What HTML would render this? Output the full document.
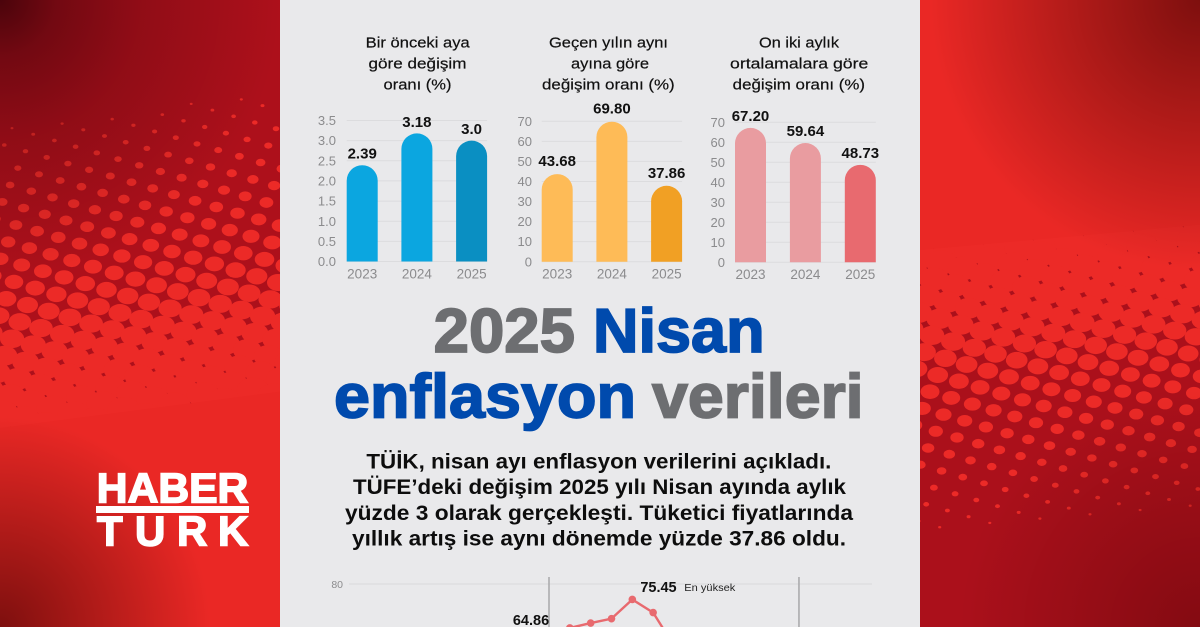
<!DOCTYPE html>
<html lang="tr">
<head>
<meta charset="utf-8">
<title>2025 Nisan enflasyon verileri</title>
<style>
  html, body { margin: 0; padding: 0; background: #e9e9eb; }
  svg { display: block; font-family: "Liberation Sans", "DejaVu Sans", sans-serif; }
</style>
</head>
<body>
<svg id="root" width="1200" height="627" viewBox="0 0 1200 627" xmlns="http://www.w3.org/2000/svg">
  <defs>
    <clipPath id="left-clip"><rect x="0" y="0" width="280" height="627"/></clipPath>
    <clipPath id="right-clip"><rect x="920" y="0" width="280" height="627"/></clipPath>
    <radialGradient id="v-tl" gradientUnits="userSpaceOnUse" cx="0" cy="0" r="280">
      <stop offset="0" stop-color="#2a0006" stop-opacity=".75"/>
      <stop offset=".2" stop-color="#2a0006" stop-opacity=".45"/>
      <stop offset=".5" stop-color="#2a0006" stop-opacity=".22"/>
      <stop offset="1" stop-color="#2a0006" stop-opacity="0"/>
    </radialGradient>
    <radialGradient id="v-bl" gradientUnits="userSpaceOnUse" cx="0" cy="627" r="210">
      <stop offset="0" stop-color="#3c0000" stop-opacity=".62"/>
      <stop offset="1" stop-color="#3c0000" stop-opacity="0"/>
    </radialGradient>
    <radialGradient id="v-tr" gradientUnits="userSpaceOnUse" cx="1200" cy="0" r="270">
      <stop offset="0" stop-color="#3c0000" stop-opacity=".62"/>
      <stop offset="1" stop-color="#3c0000" stop-opacity="0"/>
    </radialGradient>
    <radialGradient id="v-br" gradientUnits="userSpaceOnUse" cx="1200" cy="627" r="240">
      <stop offset="0" stop-color="#3c0000" stop-opacity=".35"/>
      <stop offset="1" stop-color="#3c0000" stop-opacity="0"/>
    </radialGradient>
  </defs>

  <g id="left-panel" clip-path="url(#left-clip)">
    <rect x="0" y="0" width="280" height="627" fill="#ad101b"/>
    <g id="left-dots"></g>
    <polygon points="0,428 280,391.6 280,627 0,627" fill="#ea2825"/>
    <rect x="0" y="0" width="280" height="627" fill="url(#v-tl)"/>
    <rect x="0" y="0" width="280" height="627" fill="url(#v-bl)"/>
  </g>

  <g id="right-panel" clip-path="url(#right-clip)">
    <rect x="920" y="0" width="280" height="627" fill="#ab101b"/>
    <g id="right-dots"></g>
    <polygon points="920,250 1200,224.8 1200,0 920,0" fill="#ea2825"/>
    <rect x="920" y="0" width="280" height="627" fill="url(#v-tr)"/>
    <rect x="920" y="0" width="280" height="627" fill="url(#v-br)"/>
  </g>

  <g fill="#fff" font-weight="700">
    <text x="96.8" y="502.6" font-size="42" stroke="#fff" stroke-width="1.6" textLength="151.5" lengthAdjust="spacingAndGlyphs">HABER</text>
    <rect x="96" y="506" width="153" height="7"/>
    <text x="97 135 177 218" y="545.6" font-size="42" stroke="#fff" stroke-width="1.6">TURK</text>
  </g>

  <rect x="280" y="0" width="640" height="627" fill="#e9e9eb"/>

  <g font-size="15" fill="#111" stroke="#111" stroke-width=".2">
    <text x="365.7" y="47.3" textLength="104" lengthAdjust="spacingAndGlyphs">Bir önceki aya</text>
    <text x="368.5" y="68.7" textLength="98" lengthAdjust="spacingAndGlyphs">göre değişim</text>
    <text x="383.5" y="89.3" textLength="68" lengthAdjust="spacingAndGlyphs">oranı (%)</text>
    <text x="549" y="47.3" textLength="119" lengthAdjust="spacingAndGlyphs">Geçen yılın aynı</text>
    <text x="571" y="68.7" textLength="78" lengthAdjust="spacingAndGlyphs">ayına göre</text>
    <text x="542" y="89.3" textLength="132.7" lengthAdjust="spacingAndGlyphs">değişim oranı (%)</text>
    <text x="759" y="47.3" textLength="80" lengthAdjust="spacingAndGlyphs">On iki aylık</text>
    <text x="730" y="68.7" textLength="138.3" lengthAdjust="spacingAndGlyphs">ortalamalara göre</text>
    <text x="732.7" y="89.3" textLength="132.3" lengthAdjust="spacingAndGlyphs">değişim oranı (%)</text>
  </g>

  <g id="bar-charts"></g>

  <g font-size="62" font-weight="700" stroke-width="1.7">
    <text x="433.6" y="352" fill="#6d6e71" stroke="#6d6e71" textLength="141.4" lengthAdjust="spacingAndGlyphs">2025</text>
    <text x="593" y="352" fill="#004aad" stroke="#004aad" textLength="171.6" lengthAdjust="spacingAndGlyphs">Nisan</text>
    <text x="334" y="417.5" fill="#004aad" stroke="#004aad" textLength="302" lengthAdjust="spacingAndGlyphs">enflasyon</text>
    <text x="652" y="417.5" fill="#6d6e71" stroke="#6d6e71" textLength="211.6" lengthAdjust="spacingAndGlyphs">verileri</text>
  </g>

  <g font-size="21" font-weight="700" fill="#0d0d0d">
    <text x="366.4" y="468.3" textLength="465" lengthAdjust="spacingAndGlyphs">TÜİK, nisan ayı enflasyon verilerini açıkladı.</text>
    <text x="353" y="494" textLength="493" lengthAdjust="spacingAndGlyphs">TÜFE’deki değişim 2025 yılı Nisan ayında aylık</text>
    <text x="345" y="520" textLength="508" lengthAdjust="spacingAndGlyphs">yüzde 3 olarak gerçekleşti. Tüketici fiyatlarında</text>
    <text x="352" y="545.7" textLength="494" lengthAdjust="spacingAndGlyphs">yıllık artış ise aynı dönemde yüzde 37.86 oldu.</text>
  </g>

  <g id="line-chart"></g>
</svg>

<script>
/* Bar chart data */
const barYears = ["2023", "2024", "2025"];
const monthlyValues = [2.39, 3.18, 3.0];
const monthlyLabels = ["2.39", "3.18", "3.0"];
const monthlyTicks = ["0.0", "0.5", "1.0", "1.5", "2.0", "2.5", "3.0", "3.5"];
const annualValues = [43.68, 69.80, 37.86];
const annualLabels = ["43.68", "69.80", "37.86"];
const annualTicks = ["0", "10", "20", "30", "40", "50", "60", "70"];
const averageValues = [67.20, 59.64, 48.73];
const averageLabels = ["67.20", "59.64", "48.73"];
const averageTicks = ["0", "10", "20", "30", "40", "50", "60", "70"];

/* Line chart data (monthly annual inflation, from Jan 2024) */
const lineValues = [64.86, 67.07, 68.50, 69.80, 75.45, 71.60, 61.78];
const lineTicks = ["80"];
const lineYearStarts = [0, 12];

const SVGNS = "http://www.w3.org/2000/svg";
function mk(tag, parent) {
  const el = document.createElementNS(SVGNS, tag);
  parent.appendChild(el);
  return el;
}

function drawBarChart(cfg) {
  const root = document.getElementById("bar-charts");
  const g = mk("g", root);
  
  
  const maxTick = parseFloat(cfg.ticks[cfg.ticks.length - 1]);
  const yOf = v => cfg.zeroY - (v / maxTick) * (cfg.zeroY - cfg.topY);
  const xOf = i => cfg.left + i * cfg.step;

  cfg.ticks.forEach(t => {
    const v = parseFloat(t);
    const line = mk("line", g);
    line.setAttribute("x1", cfg.left);
    line.setAttribute("x2", xOf(cfg.values.length - 1) + cfg.barW);
    line.setAttribute("y1", yOf(v));
    line.setAttribute("y2", yOf(v));
    line.setAttribute("stroke", "#dcdcde");
    line.setAttribute("stroke-width", "1");
    
    
    const label = mk("text", g);
    label.textContent = t;
    label.setAttribute("x", cfg.tickX);
    label.setAttribute("y", yOf(v) + 4.6);
    label.setAttribute("text-anchor", "end");
    label.setAttribute("font-size", "13");
    label.setAttribute("fill", "#8b8b8d");
    
    
  });

  cfg.values.forEach((v, i) => {
    const x = xOf(i), w = cfg.barW, r = w / 2, top = yOf(v);
    const bar = mk("path", g);
    bar.setAttribute("d", "M" + x + " " + cfg.zeroY + "V" + (top + r) + "A" + r + " " + r + " 0 0 1 " + (x + w) + " " + (top + r) + "V" + cfg.zeroY + "Z");
    bar.setAttribute("fill", cfg.colors[i]);
    
    
    const val = mk("text", g);
    val.textContent = cfg.labels[i];
    val.setAttribute("x", x + r);
    val.setAttribute("y", top - cfg.labelGap);
    val.setAttribute("text-anchor", "middle");
    val.setAttribute("font-size", "15");
    val.setAttribute("font-weight", "700");
    val.setAttribute("fill", "#111");
    
    
    const yr = mk("text", g);
    yr.textContent = barYears[i];
    yr.setAttribute("x", x + r);
    yr.setAttribute("y", cfg.yearY);
    yr.setAttribute("text-anchor", "middle");
    yr.setAttribute("font-size", "13.5");
    yr.setAttribute("fill", "#8b8b8d");
    
    
  });
}

drawBarChart({ name: "monthly-change-chart", values: monthlyValues, labels: monthlyLabels, ticks: monthlyTicks,
  zeroY: 261.5, topY: 120.5, left: 346.7, step: 54.7, barW: 31, tickX: 336, yearY: 278.5, labelGap: 6.5,
  colors: ["#0ba6e0", "#0ba6e0", "#0a8fc2"] });
drawBarChart({ name: "annual-change-chart", values: annualValues, labels: annualLabels, ticks: annualTicks,
  zeroY: 261.7, topY: 121.3, left: 541.7, step: 54.7, barW: 31, tickX: 532, yearY: 278.5, labelGap: 8,
  colors: ["#febb57", "#febb57", "#f1a024"] });
drawBarChart({ name: "average-change-chart", values: averageValues, labels: averageLabels, ticks: averageTicks,
  zeroY: 262.3, topY: 122.3, left: 735, step: 54.9, barW: 31, tickX: 725, yearY: 279, labelGap: 6.8,
  colors: ["#e99ca0", "#e99ca0", "#e86a6f"] });

/* Line chart */
(function () {
  const g = document.getElementById("line-chart");
  const xOf = i => 549 + i * 20.83;
  const yOf = v => 584 + (80 - v) * 3.4;

  lineTicks.forEach(t => {
    const v = parseFloat(t);
    const grid = mk("line", g);
    grid.setAttribute("x1", 349);
    grid.setAttribute("x2", 872);
    grid.setAttribute("y1", yOf(v));
    grid.setAttribute("y2", yOf(v));
    grid.setAttribute("stroke", "#d9d9db");
    grid.setAttribute("stroke-width", "1");
    
    
    const lab = mk("text", g);
    lab.textContent = t;
    lab.setAttribute("x", 343);
    lab.setAttribute("y", yOf(v) + 3.8);
    lab.setAttribute("text-anchor", "end");
    lab.setAttribute("font-size", "10.5");
    lab.setAttribute("fill", "#8b8b8d");
    
    
  });

  lineYearStarts.forEach(i => {
    const sep = mk("line", g);
    sep.setAttribute("x1", xOf(i));
    sep.setAttribute("x2", xOf(i));
    sep.setAttribute("y1", 577);
    sep.setAttribute("y2", 627);
    sep.setAttribute("stroke", "#ababad");
    sep.setAttribute("stroke-width", "1.6");
    
    
  });

  const path = mk("polyline", g);
  path.setAttribute("points", lineValues.map((v, i) => xOf(i) + "," + yOf(v)).join(" "));
  path.setAttribute("fill", "none");
  path.setAttribute("stroke", "#e86a6f");
  path.setAttribute("stroke-width", "2.4");
  
  

  lineValues.forEach((v, i) => {
    const dot = mk("circle", g);
    dot.setAttribute("cx", xOf(i));
    dot.setAttribute("cy", yOf(v));
    dot.setAttribute("r", "3.8");
    dot.setAttribute("fill", "#e86a6f");
    
    
  });

  const firstLabel = mk("text", g);
  firstLabel.textContent = lineValues[0].toFixed(2);
  firstLabel.setAttribute("x", xOf(0) - 18);
  firstLabel.setAttribute("y", yOf(lineValues[0]) - 10.5);
  firstLabel.setAttribute("text-anchor", "middle");
  firstLabel.setAttribute("font-size", "14.5");
  firstLabel.setAttribute("font-weight", "700");
  firstLabel.setAttribute("fill", "#111");
  
  

  const peak = Math.max.apply(null, lineValues);
  const peakI = lineValues.indexOf(peak);
  const peakLabel = mk("text", g);
  peakLabel.textContent = peak.toFixed(2);
  peakLabel.setAttribute("x", xOf(peakI) + 8);
  peakLabel.setAttribute("y", yOf(peak) - 7.5);
  peakLabel.setAttribute("font-size", "14.5");
  peakLabel.setAttribute("font-weight", "700");
  peakLabel.setAttribute("fill", "#111");
  
  

  const peakNote = mk("text", g);
  peakNote.textContent = "En yüksek";
  peakNote.setAttribute("x", xOf(peakI) + 52);
  peakNote.setAttribute("y", yOf(peak) - 8.5);
  peakNote.setAttribute("font-size", "10.5");
  peakNote.setAttribute("textLength", "51");
  peakNote.setAttribute("lengthAdjust", "spacingAndGlyphs");
  peakNote.setAttribute("fill", "#222");
  
  
})();

/* Decorative halftone backgrounds */
function halftone(parentId, ax, ay, by, tOf, radius, minT, maxT, xMin, xMax) {
  const parent = document.getElementById(parentId);
  for (let i = -40; i <= 40; i++) {
    for (let j = -40; j <= 40; j++) {
      const x = ax + i * 21.2 - j * 7.7;
      const y = ay + i * 6.2 + j * by;
      if (x < xMin - 20 || x > xMax + 20 || y < -20 || y > 650) continue;
      const t = tOf(x, y);
      if (t < minT || t > maxT) continue;
      const rx = radius(t);
      const dot = mk("ellipse", parent);
      dot.setAttribute("cx", x.toFixed(1));
      dot.setAttribute("cy", y.toFixed(1));
      dot.setAttribute("rx", rx.toFixed(2));
      dot.setAttribute("ry", (rx * 0.77).toFixed(2));
      dot.setAttribute("fill", "#ec2a27");
      
      
    }
  }
}
halftone("left-dots", 21.7, 265, 16.9, (x, y) => y + 0.13 * x, t => 1.5 + (t - 130) * 0.0505, 128, 435, 0, 280);
halftone("right-dots", 937.7, 375, 16.7, (x, y) => y + 0.09 * (x - 920),
  t => t >= 367 ? 1.5 + (530 - t) * 0.058 : 11 + (367 - t) * 0.0465, 245, 532, 920, 1200);
</script>
</body>
</html>
